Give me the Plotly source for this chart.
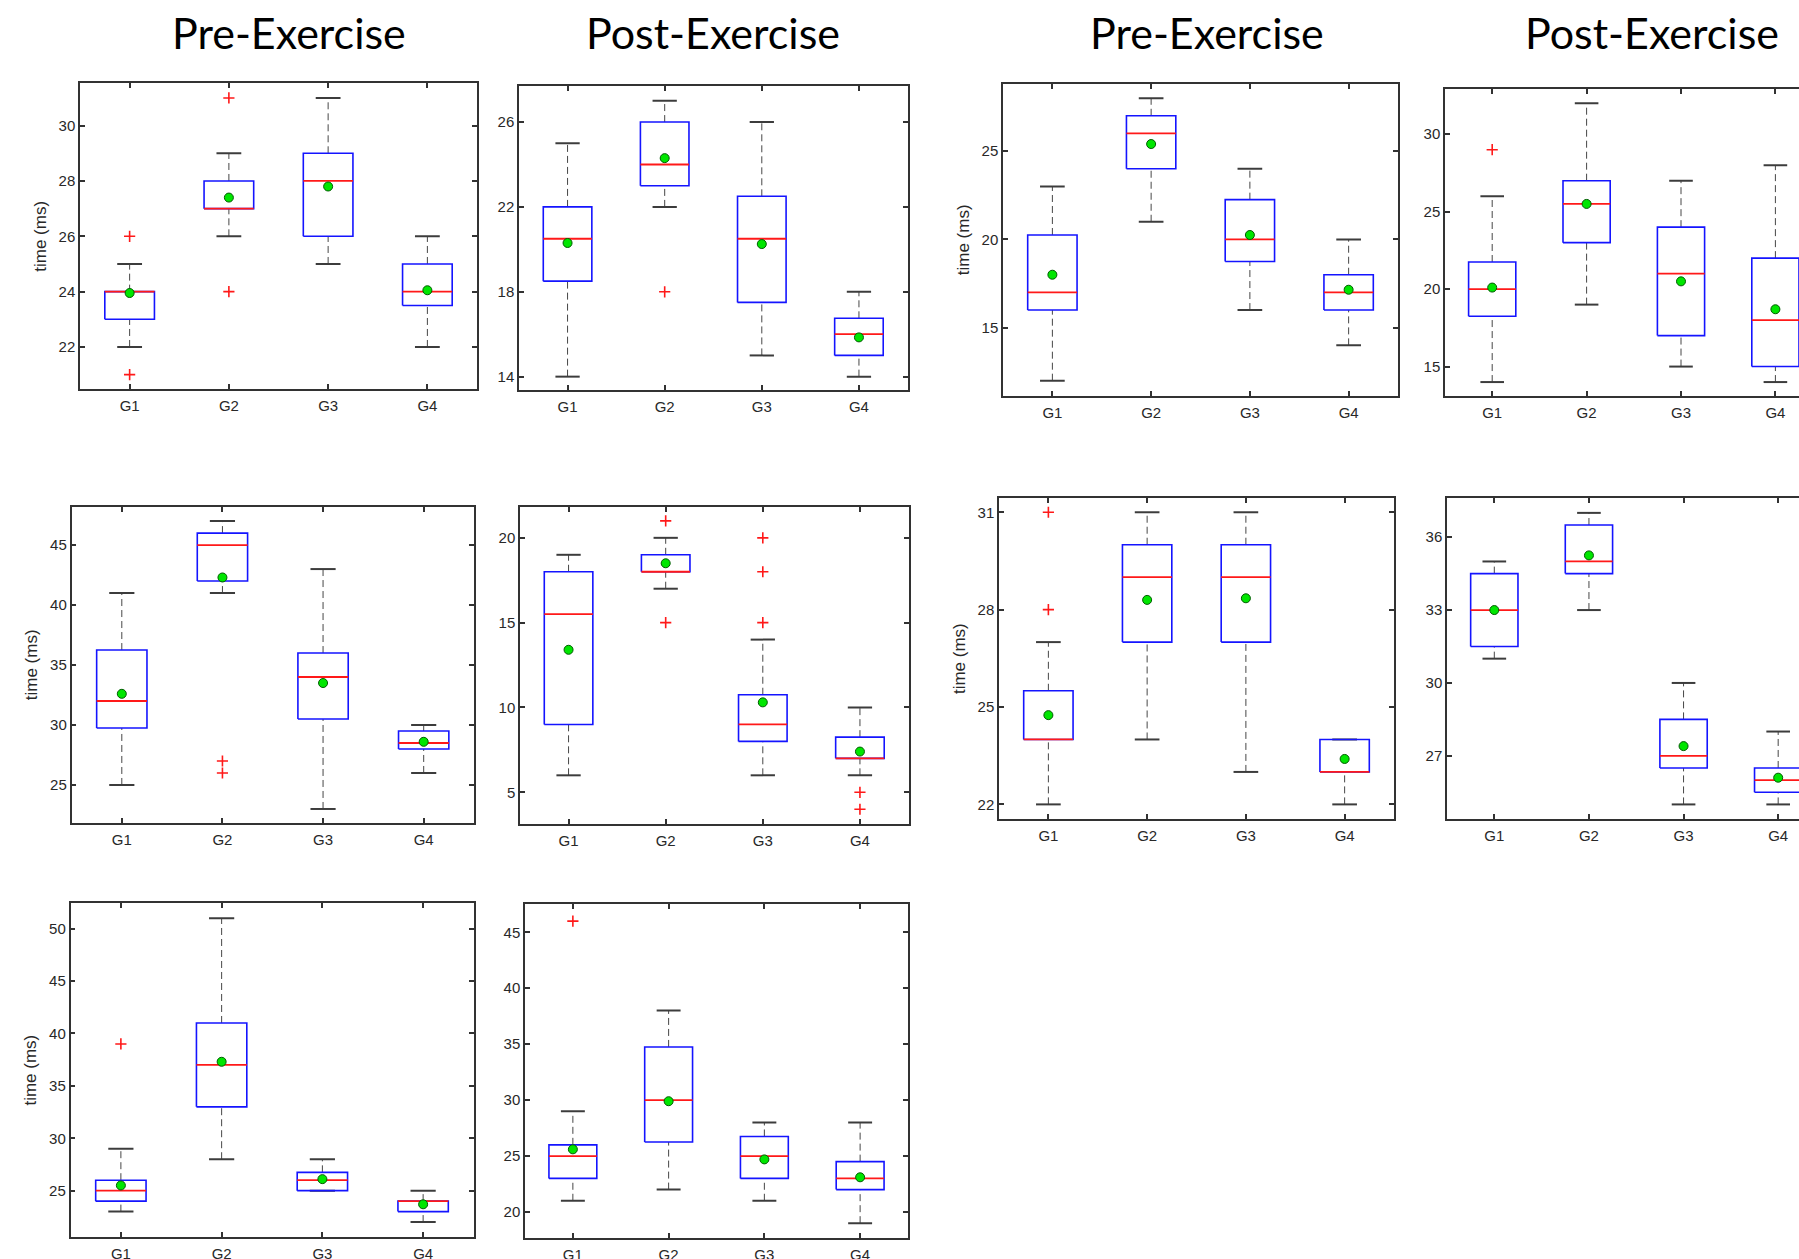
import plotly.graph_objects as go

# ---------------- data ----------------
groups = ["G1", "G2", "G3", "G4"]

# Panel 1 (row 1, Pre-Exercise, left pair)
p1_q1 = [23, 27, 26, 23.5]
p1_med = [24, 27, 28, 24]
p1_q3 = [24, 28, 29, 25]
p1_lo = [22, 26, 25, 22]
p1_hi = [25, 29, 31, 26]
p1_mean = [23.95, 27.4, 27.8, 24.05]
p1_out = [[26, 21], [31, 24], [], []]
p1_yticks = [22, 24, 26, 28, 30]
p1_yrange = [20.47, 31.53]

# Panel 2 (row 1, Post-Exercise, left pair)
p2_q1 = [18.5, 23, 17.5, 15]
p2_med = [20.5, 24, 20.5, 16]
p2_q3 = [22, 26, 22.5, 16.75]
p2_lo = [14, 22, 15, 14]
p2_hi = [25, 27, 26, 18]
p2_mean = [20.3, 24.3, 20.25, 15.85]
p2_out = [[], [18], [], []]
p2_yticks = [14, 18, 22, 26]
p2_yrange = [13.37, 27.7]

# Panel 3 (row 1, Pre-Exercise, right pair)
p3_q1 = [16, 24, 18.75, 16]
p3_med = [17, 26, 20, 17]
p3_q3 = [20.25, 27, 22.25, 18]
p3_lo = [12, 21, 16, 14]
p3_hi = [23, 28, 24, 20]
p3_mean = [18.0, 25.4, 20.25, 17.15]
p3_out = [[], [], [], []]
p3_yticks = [15, 20, 25]
p3_yrange = [11.15, 28.8]

# Panel 4 (row 1, Post-Exercise, right pair)
p4_q1 = [18.25, 23, 17, 15]
p4_med = [20, 25.5, 21, 18]
p4_q3 = [21.75, 27, 24, 22]
p4_lo = [14, 19, 15, 14]
p4_hi = [26, 32, 27, 28]
p4_mean = [20.1, 25.5, 20.5, 18.7]
p4_out = [[29], [], [], []]
p4_yticks = [15, 20, 25, 30]
p4_yrange = [13.1, 32.9]

# Panel 5 (row 2, Pre-Exercise, left pair)
p5_q1 = [29.75, 42, 30.5, 28]
p5_med = [32, 45, 34, 28.5]
p5_q3 = [36.25, 46, 36, 29.5]
p5_lo = [25, 41, 23, 26]
p5_hi = [41, 47, 43, 30]
p5_mean = [32.6, 42.3, 33.5, 28.6]
p5_out = [[], [27, 26], [], []]
p5_yticks = [25, 30, 35, 40, 45]
p5_yrange = [21.83, 48.2]

# Panel 6 (row 2, Post-Exercise, left pair)
p6_q1 = [9, 18, 8, 7]
p6_med = [15.5, 18, 9, 7]
p6_q3 = [18, 19, 10.75, 8.25]
p6_lo = [6, 17, 6, 6]
p6_hi = [19, 20, 14, 10]
p6_mean = [13.4, 18.5, 10.3, 7.4]
p6_out = [[], [21, 15], [15, 18, 20], [5, 4]]
p6_yticks = [5, 10, 15, 20]
p6_yrange = [3.13, 21.8]

# Panel 7 (row 2, Pre-Exercise, right pair)
p7_q1 = [24, 27, 27, 23]
p7_med = [24, 29, 29, 23]
p7_q3 = [25.5, 30, 30, 24]
p7_lo = [22, 24, 23, 22]
p7_hi = [27, 31, 31, 24]
p7_mean = [24.75, 28.3, 28.35, 23.4]
p7_out = [[28, 31], [], [], []]
p7_yticks = [22, 25, 28, 31]
p7_yrange = [21.55, 31.43]

# Panel 8 (row 2, Post-Exercise, right pair)
p8_q1 = [31.5, 34.5, 26.5, 25.5]
p8_med = [33, 35, 27, 26]
p8_q3 = [34.5, 36.5, 28.5, 26.5]
p8_lo = [31, 33, 25, 25]
p8_hi = [35, 37, 30, 28]
p8_mean = [33.0, 35.25, 27.4, 26.1]
p8_out = [[], [], [], []]
p8_yticks = [27, 30, 33, 36]
p8_yrange = [24.4, 37.6]

# Panel 9 (row 3, Pre-Exercise)
p9_q1 = [24, 33, 25, 23]
p9_med = [25, 37, 26, 24]
p9_q3 = [26, 41, 26.75, 24]
p9_lo = [23, 28, 25, 22]
p9_hi = [29, 51, 28, 25]
p9_mean = [25.5, 37.3, 26.1, 23.7]
p9_out = [[39], [], [], []]
p9_yticks = [25, 30, 35, 40, 45, 50]
p9_yrange = [20.55, 52.45]

# Panel 10 (row 3, Post-Exercise)
p10_q1 = [23, 26.25, 23, 22]
p10_med = [25, 30, 25, 23]
p10_q3 = [26, 34.75, 26.75, 24.5]
p10_lo = [21, 22, 21, 19]
p10_hi = [29, 38, 28, 28]
p10_mean = [25.6, 29.9, 24.7, 23.1]
p10_out = [[46], [], [], []]
p10_yticks = [20, 25, 30, 35, 40, 45]
p10_yrange = [17.7, 47.5]

column_titles = ["Pre-Exercise", "Post-Exercise", "Pre-Exercise", "Post-Exercise"]
y_label = "time (ms)"

# ---------------- layout geometry (pixels) ----------------
W, H = 1799, 1259
# (left, right, top, bottom) of each panel frame, in pixels
frames = [
    (80, 477, 83.3, 389.3),
    (519, 907.5, 86, 390),
    (1003, 1398, 84, 395.7),
    (1445, 1799, 89.3, 396),
    (71.5, 474, 506.7, 823),
    (520, 908.5, 507.3, 824),
    (999, 1394, 498.3, 819),
    (1447, 1799, 498.3, 819),
    (70.5, 473.5, 903, 1237.3),
    (525, 908, 904.3, 1237.7),
]
xmax = [4.5, 4.5, 4.5, 4.25, 4.5, 4.5, 4.5, 4.22, 4.5, 4.5]
has_ylabel = [True, False, True, False, True, False, True, False, True, False]
title_x = [289, 713, 1207, 1652]
title_y = 33

panels = [
    (p1_q1, p1_med, p1_q3, p1_lo, p1_hi, p1_mean, p1_out, p1_yticks, p1_yrange),
    (p2_q1, p2_med, p2_q3, p2_lo, p2_hi, p2_mean, p2_out, p2_yticks, p2_yrange),
    (p3_q1, p3_med, p3_q3, p3_lo, p3_hi, p3_mean, p3_out, p3_yticks, p3_yrange),
    (p4_q1, p4_med, p4_q3, p4_lo, p4_hi, p4_mean, p4_out, p4_yticks, p4_yrange),
    (p5_q1, p5_med, p5_q3, p5_lo, p5_hi, p5_mean, p5_out, p5_yticks, p5_yrange),
    (p6_q1, p6_med, p6_q3, p6_lo, p6_hi, p6_mean, p6_out, p6_yticks, p6_yrange),
    (p7_q1, p7_med, p7_q3, p7_lo, p7_hi, p7_mean, p7_out, p7_yticks, p7_yrange),
    (p8_q1, p8_med, p8_q3, p8_lo, p8_hi, p8_mean, p8_out, p8_yticks, p8_yrange),
    (p9_q1, p9_med, p9_q3, p9_lo, p9_hi, p9_mean, p9_out, p9_yticks, p9_yrange),
    (p10_q1, p10_med, p10_q3, p10_lo, p10_hi, p10_mean, p10_out, p10_yticks, p10_yrange),
]

BOX_W = 0.5
CAP_W = 0.25
BLUE = "rgb(20,20,255)"
RED = "rgb(255,25,25)"
WHISK = "rgb(70,70,70)"
CAP = "rgb(60,60,60)"
AXC = "rgb(50,50,50)"
TICKFONT = dict(family="Liberation Sans, Arial, sans-serif", size=15, color="rgb(40,40,40)")

fig = go.Figure()
layout = dict(
    width=W, height=H,
    margin=dict(l=0, r=0, t=0, b=0, autoexpand=False),
    paper_bgcolor="white", plot_bgcolor="white",
    showlegend=False,
    annotations=[],
)

for i, (q1, med, q3, lo, hi, mean, outs, yt, yr) in enumerate(panels):
    n = i + 1
    xa = "x" if n == 1 else f"x{n}"
    ya = "y" if n == 1 else f"y{n}"
    xkey = "xaxis" if n == 1 else f"xaxis{n}"
    ykey = "yaxis" if n == 1 else f"yaxis{n}"
    xs = list(range(1, len(groups) + 1))

    # whiskers (dashed)
    wx, wy = [], []
    for x, a, b, c, d in zip(xs, lo, q1, q3, hi):
        wx += [x, x, None, x, x, None]
        wy += [a, b, None, c, d, None]
    fig.add_trace(go.Scatter(x=wx, y=wy, mode="lines", xaxis=xa, yaxis=ya,
                             line=dict(color=WHISK, width=1, dash="7px,4px"), hoverinfo="skip"))
    # caps
    cx, cy = [], []
    for x, a, d in zip(xs, lo, hi):
        cx += [x - CAP_W / 2, x + CAP_W / 2, None, x - CAP_W / 2, x + CAP_W / 2, None]
        cy += [a, a, None, d, d, None]
    fig.add_trace(go.Scatter(x=cx, y=cy, mode="lines", xaxis=xa, yaxis=ya,
                             line=dict(color=CAP, width=2), hoverinfo="skip"))
    # boxes
    bx, by = [], []
    for x, b, c in zip(xs, q1, q3):
        l, r = x - BOX_W / 2, x + BOX_W / 2
        bx += [l, r, r, l, l, None]
        by += [b, b, c, c, b, None]
    fig.add_trace(go.Scatter(x=bx, y=by, mode="lines", xaxis=xa, yaxis=ya,
                             line=dict(color=BLUE, width=1.6), hoverinfo="skip"))
    # medians
    mx, my = [], []
    for x, m in zip(xs, med):
        mx += [x - BOX_W / 2, x + BOX_W / 2, None]
        my += [m, m, None]
    fig.add_trace(go.Scatter(x=mx, y=my, mode="lines", xaxis=xa, yaxis=ya,
                             line=dict(color=RED, width=1.8), hoverinfo="skip"))
    # outliers
    ox, oy = [], []
    for x, o in zip(xs, outs):
        for v in o:
            ox.append(x)
            oy.append(v)
    if ox:
        fig.add_trace(go.Scatter(x=ox, y=oy, mode="markers", xaxis=xa, yaxis=ya,
                                 marker=dict(symbol="cross-thin", size=8,
                                             line=dict(color=RED, width=1.6)),
                                 hoverinfo="skip"))
    # means
    fig.add_trace(go.Scatter(x=xs, y=mean, mode="markers", xaxis=xa, yaxis=ya,
                             marker=dict(symbol="circle", size=9, color="rgb(0,230,0)",
                                         line=dict(color="rgb(0,90,0)", width=1)),
                             hoverinfo="skip"))

    L, R, T, B = frames[i]
    cut = xmax[i] < 4.5
    layout[xkey] = dict(
        domain=[L / W, R / W], anchor=ya, range=[0.5, xmax[i]],
        tickvals=xs, ticktext=groups, ticks="inside", ticklen=5, tickwidth=1.5,
        tickcolor=AXC, showline=True, linecolor=AXC, linewidth=2.2, mirror="ticks",
        showgrid=False, zeroline=False, tickfont=TICKFONT, fixedrange=True,
        ticklabelstandoff=2, automargin=False,
    )
    ydict = dict(
        domain=[1 - B / H, 1 - T / H], anchor=xa, range=yr,
        tickvals=yt, ticks="inside", ticklen=5, tickwidth=1.5, tickcolor=AXC,
        showline=True, linecolor=AXC, linewidth=1.5,
        mirror=False if cut else "ticks",
        showgrid=False, zeroline=False, tickfont=TICKFONT, fixedrange=True,
        automargin=False,
    )
    if has_ylabel[i]:
        ydict["title"] = dict(text=y_label, standoff=8,
                              font=dict(family="Liberation Sans, Arial, sans-serif",
                                        size=17, color="rgb(40,40,40)"))
    layout[ykey] = ydict

for t, x in zip(column_titles, title_x):
    layout["annotations"].append(dict(
        text=t, x=x / W, y=1 - title_y / H, xref="paper", yref="paper",
        xanchor="center", yanchor="middle", showarrow=False,
        font=dict(family="Lato, Carlito, Calibri, sans-serif", size=43, color="black"),
    ))

fig.update_layout(**layout)
fig.write_html(
    "out.html",
    config={"displayModeBar": False},
    post_script="document.body.style.margin='0';document.body.style.overflow='hidden';",
)
